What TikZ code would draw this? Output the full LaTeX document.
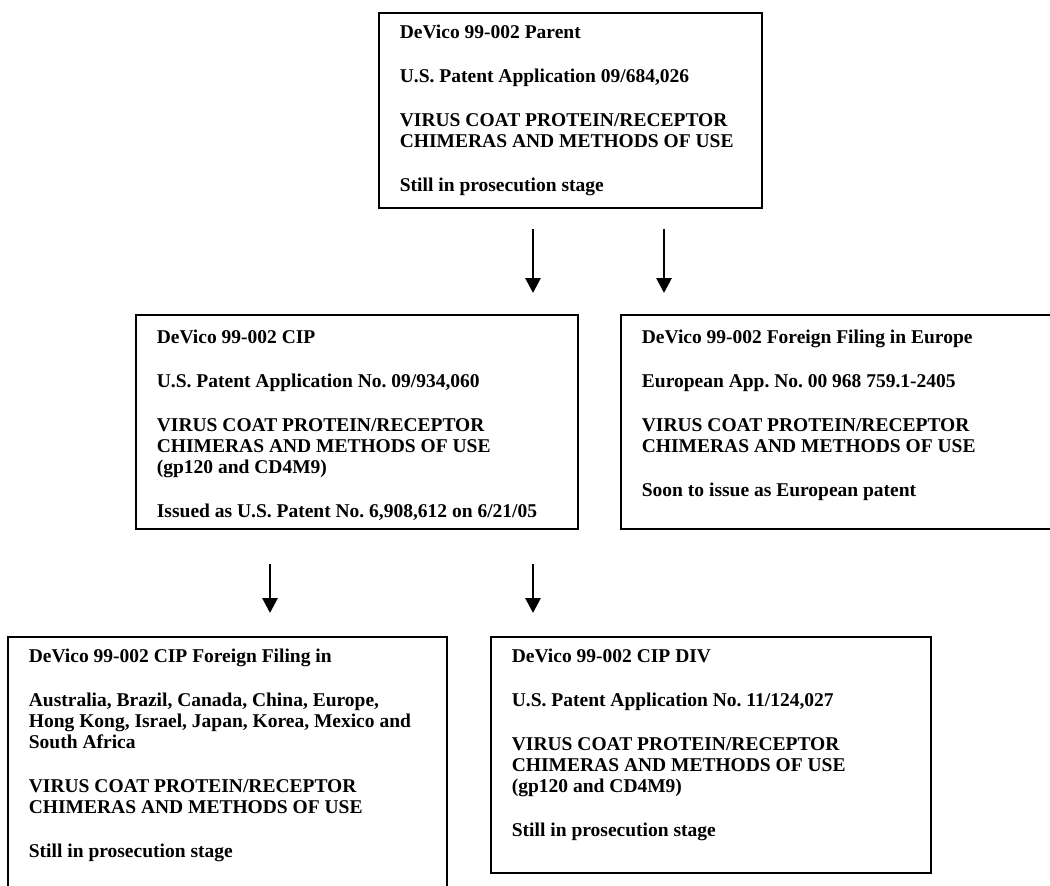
\documentclass[tikz,border=0pt]{standalone}
\usepackage{fontspec}
\setmainfont{Liberation Serif}
\usetikzlibrary{arrows.meta}
\frenchspacing
\newcommand{\boxtxt}[4]{\parbox[c][#2][t]{#1}{\frenchspacing\rule{0pt}{#3}#4}}
\tikzset{
  patbox/.style={draw, line width=1.8pt, inner xsep=21pt, inner ysep=0pt, anchor=north west,
    font=\bfseries\fontsize{19.5pt}{21pt}\selectfont},
  arr/.style={line width=2.8pt, -{Triangle[length=15pt,width=15pt]}}
}
\begin{document}
\begin{tikzpicture}[x=1pt,y=-1pt]
\useasboundingbox (0,0) rectangle (1050,886);
\node[patbox] (parent) at (378,12) {\boxtxt{341pt}{195pt}{26pt}{%
DeVico 99-002 Parent\\[23pt]
U.S. Patent Application 09/684,026\\[23pt]
VIRUS COAT PROTEIN/RECEPTOR\\
CHIMERAS AND METHODS OF USE\\[23pt]
Still in prosecution stage}};
\node[patbox] (cip) at (135,314) {\boxtxt{400pt}{214pt}{29pt}{%
DeVico 99-002 CIP\\[23pt]
U.S. Patent Application No. 09/934,060\\[23pt]
VIRUS COAT PROTEIN/RECEPTOR\\
CHIMERAS AND METHODS OF USE\\
(gp120 and CD4M9)\\[23pt]
Issued as U.S. Patent No. 6,908,612 on 6/21/05}};
\node[patbox] (eur) at (620,314) {\boxtxt{400pt}{214pt}{29pt}{%
DeVico 99-002 Foreign Filing in Europe\\[23pt]
European App. No. 00 968 759.1-2405\\[23pt]
VIRUS COAT PROTEIN/RECEPTOR\\
CHIMERAS AND METHODS OF USE\\[23pt]
Soon to issue as European patent}};
\node[patbox] (cipfor) at (7,636) {\boxtxt{397pt}{262pt}{26pt}{%
DeVico 99-002 CIP Foreign Filing in\\[23pt]
Australia, Brazil, Canada, China, Europe,\\
Hong Kong, Israel, Japan, Korea, Mexico and\\
South Africa\\[23pt]
VIRUS COAT PROTEIN/RECEPTOR\\
CHIMERAS AND METHODS OF USE\\[23pt]
Still in prosecution stage}};
\node[patbox] (cipdiv) at (490,636) {\boxtxt{398pt}{236pt}{26pt}{%
DeVico 99-002 CIP DIV\\[23pt]
U.S. Patent Application No. 11/124,027\\[23pt]
VIRUS COAT PROTEIN/RECEPTOR\\
CHIMERAS AND METHODS OF USE\\
(gp120 and CD4M9)\\[23pt]
Still in prosecution stage}};
\coordinate (c1) at (533,0);
\coordinate (c2) at (664,0);
\coordinate (c3) at (270,0);
\draw[arr, shorten <=20pt, shorten >=21pt] (parent.south -| c1) -- (cip.north -| c1);
\draw[arr, shorten <=20pt, shorten >=21pt] (parent.south -| c2) -- (eur.north -| c2);
\draw[arr, shorten <=34pt, shorten >=23pt] (cip.south -| c3) -- (cipfor.north -| c3);
\draw[arr, shorten <=34pt, shorten >=23pt] (cip.south -| c1) -- (cipdiv.north -| c1);
\end{tikzpicture}
\end{document}
